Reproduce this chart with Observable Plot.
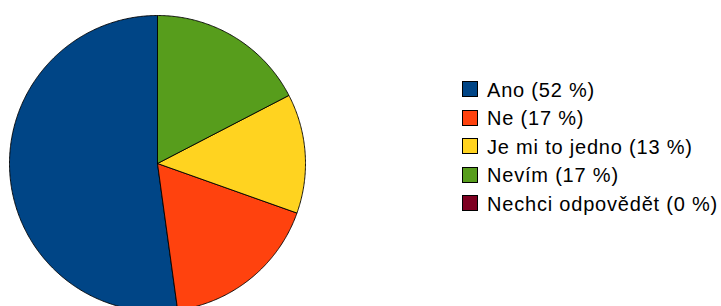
<!DOCTYPE html>
<html><head><meta charset="utf-8">
<script src="https://cdn.jsdelivr.net/npm/d3@7"></script>
<script src="https://cdn.jsdelivr.net/npm/@observablehq/plot@0.6"></script>
<style>
html,body{margin:0;padding:0;background:#fff;overflow:hidden;width:721px;height:306px}
#chart{position:absolute;left:0;top:0}
#legend{position:absolute;left:462px;top:76px;font-family:"Liberation Sans",Arial,sans-serif;font-size:20px;letter-spacing:0.8px;color:#000}
.row{display:flex;align-items:center;height:28.5px;white-space:nowrap}
.sw{width:16px;height:16px;border:1px solid #000;box-sizing:border-box;margin-right:9px;position:relative;top:-1px}
</style></head><body>
<div id="chart"></div><div id="legend"></div>
<script>
const categories = ["Ano", "Ne", "Je mi to jedno", "Nevím", "Nechci odpovědět"];
const counts = [12, 4, 3, 4, 0];
const percentLabels = ["52 %", "17 %", "13 %", "17 %", "0 %"];
const colors = ["#004586", "#ff420e", "#ffd320", "#579d1c", "#7e0021"];

const data = categories.map((c, i) => ({cat: c, count: counts[i]}));
const arcs = d3.pie().sort(null).value(d => d.count)(data);
const points = [];
arcs.forEach(a => {
  if (a.endAngle - a.startAngle <= 0) return;
  const cat = a.data.cat;
  points.push({cat, x: 0, y: 0});
  const n = Math.max(2, Math.ceil((a.endAngle - a.startAngle) / (Math.PI / 360)));
  for (let k = 0; k <= n; k++) {
    const t = a.startAngle + (a.endAngle - a.startAngle) * k / n;
    points.push({cat, x: -Math.sin(t), y: Math.cos(t)});
  }
  points.push({cat, x: 0, y: 0});
});

const plot = Plot.plot({
  width: 316, height: 306, margin: 0,
  x: {domain: [-1, 1], range: [9, 305], axis: null},
  y: {domain: [-1, 1], range: [311, 15], axis: null},
  color: {domain: categories, range: colors},
  marks: [
    Plot.line(points, {x: "x", y: "y", z: "cat", fill: "cat", stroke: "#000", strokeWidth: 0.9, curve: "linear"})
  ]
});
document.getElementById("chart").appendChild(plot);

const legend = document.getElementById("legend");
categories.forEach((c, i) => {
  const row = document.createElement("div");
  row.className = "row";
  const sw = document.createElement("span");
  sw.className = "sw";
  sw.style.background = colors[i];
  const lab = document.createElement("span");
  lab.textContent = `${c} (${percentLabels[i]})`;
  row.appendChild(sw); row.appendChild(lab);
  legend.appendChild(row);
});
</script>
</body></html>
